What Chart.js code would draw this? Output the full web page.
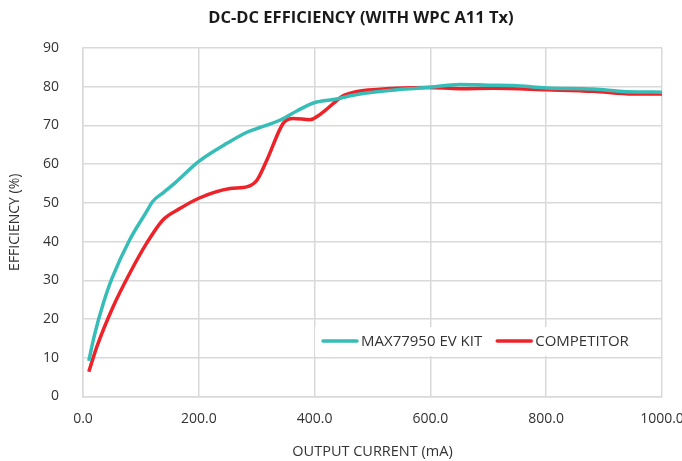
<!DOCTYPE html>
<html>
<head>
<meta charset="utf-8">
<script src="https://cdn.jsdelivr.net/npm/chart.js@4"></script>
<style>
  html, body { margin: 0; padding: 0; background: #fff; }
  #wrap { width: 682px; height: 461px; }
</style>
</head>
<body>
<div id="wrap"><canvas id="eff"></canvas></div>
<script>
// DC-DC efficiency curves
const chartTitle = "DC-DC EFFICIENCY (WITH WPC A11 Tx)";
const seriesNames = ["MAX77950 EV KIT", "COMPETITOR"];

const maxCurrent = [10, 20, 35, 50, 80, 110, 120, 140, 160, 200, 250, 284, 306, 341, 370, 398, 432, 478, 520, 594, 651, 700, 743, 801, 881, 939, 1000];
const maxEff     = [9.2, 16, 24, 30.5, 40.3, 47.8, 50.3, 52.8, 55.3, 60.7, 65.5, 68.3, 69.5, 71.4, 73.8, 75.8, 76.7, 78.1, 78.9, 79.8, 80.6, 80.4, 80.3, 79.7, 79.4, 78.7, 78.6];

const compCurrent = [10, 24, 52, 81, 110, 138, 168, 200, 254, 284, 301, 318, 346, 363, 392, 410, 450, 474, 507, 594, 651, 709, 801, 881, 950, 1000];
const compEff     = [6.4, 12.9, 23.2, 31.9, 39.6, 45.6, 48.6, 51.2, 53.7, 54.2, 56, 61.2, 70.6, 71.8, 71.5, 72.9, 77.7, 78.8, 79.3, 79.8, 79.5, 79.6, 79.2, 78.8, 78.1, 78.1];

const xTicks = [0, 200, 400, 600, 800, 1000];
const yTicks = [0, 10, 20, 30, 40, 50, 60, 70, 80, 90];

const FONT = "'Open Sans', 'DejaVu Sans', sans-serif";
const TXT = "#333333";
const GRID = "#d9d9d9";

function pts(xs, ys){ return xs.map((x,i) => ({x, y: ys[i]})); }

// title drawn above the plot
const titlePlugin = {
  id: "topTitle",
  afterDraw(chart){
    const ctx = chart.ctx;
    ctx.save();
    ctx.font = "bold 16.5px " + FONT;
    ctx.fillStyle = "#1a1a1a";
    ctx.textAlign = "center";
    ctx.textBaseline = "middle";
    ctx.fillText(chartTitle, 361, 18);
    ctx.restore();
  }
};

// legend box inside the plot area, lower right
const legendPlugin = {
  id: "boxLegend",
  afterDatasetsDraw(chart){
    const ctx = chart.ctx;
    const ds = chart.data.datasets;
    ctx.save();
    ctx.fillStyle = "#fff";
    ctx.fillRect(315, 327, 332, 29);
    ctx.font = "15px " + FONT;
    ctx.textBaseline = "middle";
    let x = 323;
    ds.forEach(d => {
      ctx.strokeStyle = d.borderColor;
      ctx.lineWidth = 3.5;
      ctx.lineCap = "round";
      ctx.beginPath();
      ctx.moveTo(x, 341);
      ctx.lineTo(x + 34, 341);
      ctx.stroke();
      ctx.fillStyle = TXT;
      ctx.fillText(d.label, x + 38, 342);
      x += 38 + ctx.measureText(d.label).width + 15;
    });
    ctx.restore();
  }
};

new Chart(document.getElementById("eff"), {
  type: "line",
  data: {
    datasets: [
      { label: seriesNames[0], data: pts(maxCurrent, maxEff), borderColor: "#36bdb7", borderWidth: 3.5, pointRadius: 0, cubicInterpolationMode: "monotone" },
      { label: seriesNames[1], data: pts(compCurrent, compEff), borderColor: "#ee2229", borderWidth: 3.5, pointRadius: 0, cubicInterpolationMode: "monotone" }
    ]
  },
  options: {
    responsive: true,
    maintainAspectRatio: false,
    animation: false,
    layout: { padding: { top: 48, right: 0, left: 0, bottom: 0 } },
    plugins: { legend: { display: false }, title: { display: false }, tooltip: { enabled: false } },
    scales: {
      x: {
        type: "linear", min: 0, max: 1000,
        afterBuildTicks: s => { s.ticks = xTicks.map(v => ({value: v})); },
        afterFit: s => { s.height = 64.5; s.paddingLeft = 0; s.paddingRight = 20; },
        grid: { color: GRID, lineWidth: 1.5, drawTicks: false },
        border: { color: GRID, width: 1.5 },
        ticks: { padding: 14, color: TXT, font: { family: FONT, size: 14 }, maxRotation: 0, callback: v => v.toFixed(1) },
        title: { display: true, text: "OUTPUT CURRENT (mA)", color: TXT, font: { family: FONT, size: 14.5 }, padding: { top: 0, bottom: 0 } }
      },
      y: {
        min: 0, max: 90,
        afterBuildTicks: s => { s.ticks = yTicks.map(v => ({value: v})); },
        afterFit: s => { s.width = 83; },
        grid: { color: GRID, lineWidth: 1.5, drawTicks: false },
        border: { color: GRID, width: 1.5 },
        ticks: { padding: 24, color: TXT, font: { family: FONT, size: 14 } },
        title: { display: true, text: "EFFICIENCY (%)", color: TXT, font: { family: FONT, size: 14 }, padding: { top: 7, bottom: 0 } }
      }
    }
  },
  plugins: [titlePlugin, legendPlugin]
});
</script>
</body>
</html>
